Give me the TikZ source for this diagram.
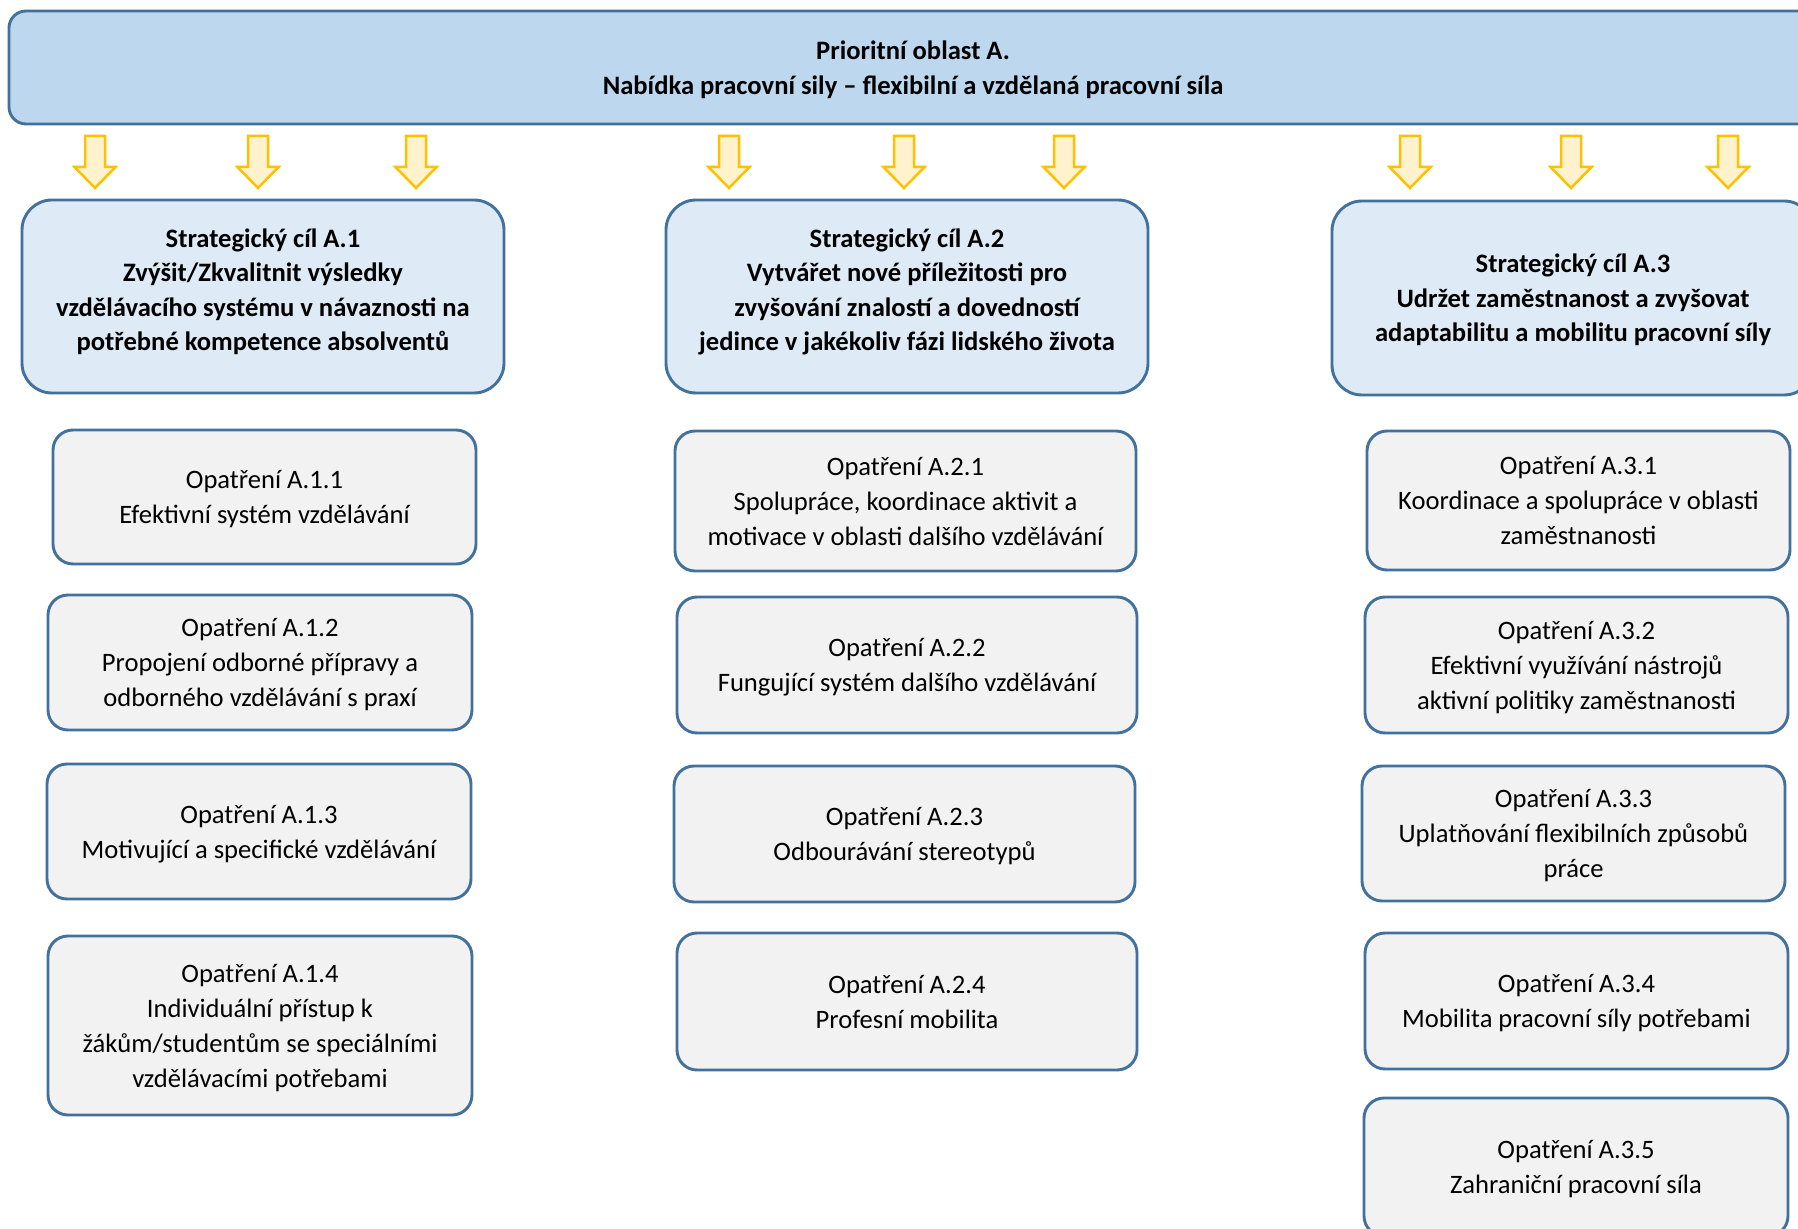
\documentclass[tikz,border=0pt]{standalone}
\usepackage{fontspec}
\setmainfont{Carlito}
\definecolor{edge}{HTML}{41719C}
\definecolor{topfill}{HTML}{BDD7EE}
\definecolor{goalfill}{HTML}{DEEBF7}
\definecolor{measfill}{HTML}{F2F2F2}
\definecolor{arrowedge}{HTML}{FFC000}
\definecolor{arrowfill}{HTML}{FFF2CC}
\begin{document}
\begin{tikzpicture}[x=0.5pt,y=-0.5pt,
  base/.style={draw=edge, line width=1.45pt, inner sep=0pt, align=center, text depth=0pt,
    font=\fontsize{13.3}{17.5}\selectfont},
  pbox/.style n args={4}{minimum width={(#3-#1)*0.5pt}, minimum height={(#4-#2)*0.5pt},
    at={({(#1+#3)/2},{(#2+#4)/2})}},
  topbox/.style={base, fill=topfill, rounded corners=8.5pt,
    font=\fontsize{13.3}{17.5}\selectfont\bfseries},
  goalbox/.style={base, fill=goalfill, rounded corners=15pt,
    font=\fontsize{13.3}{17.2}\selectfont\bfseries},
  measbox/.style={base, fill=measfill, rounded corners=10pt},
  darr/.pic={\draw[draw=arrowedge, fill=arrowfill, line width=1.25pt, line join=miter]
     (-10,0) -- (10,0) -- (10,31) -- (20.5,31) -- (0,52) -- (-20.5,31) -- (-10,31) -- cycle;}]
\useasboundingbox (0,0) rectangle (1798,1229);
\clip (0,0) rectangle (1798,1229);
\fill[white] (0,0) rectangle (1798,1229);

% top box
\node[topbox, pbox={9}{11}{1817}{124}] (top) {Prioritní oblast A.\\Nabídka pracovní sily – flexibilní a vzdělaná pracovní síla};

% arrows
\foreach \x in {95,258,416,729,904,1064,1410,1571,1728}
  \pic at (\x,136) {darr};

% strategic goals
\node[goalbox, pbox={22}{200}{504}{393}, text depth=7pt] (g1) {Strategický cíl A.1\\Zvýšit/Zkvalitnit výsledky\\vzdělávacího systému v návaznosti na\\potřebné kompetence absolventů};
\node[goalbox, pbox={666}{200}{1148}{393}, text depth=7pt] (g2) {Strategický cíl A.2\\Vytvářet nové příležitosti pro\\zvyšování znalostí a dovedností\\jedince v jakékoliv fázi lidského života};
\node[goalbox, pbox={1332}{201}{1814}{395}] (g3) {Strategický cíl A.3\\Udržet zaměstnanost a zvyšovat\\adaptabilitu a mobilitu pracovní síly};

% measures column 1
\node[measbox, pbox={53}{430}{476}{564}] (m11) {Opatření A.1.1\\Efektivní systém vzdělávání};
\node[measbox, pbox={48}{595}{472}{730}] (m12) {Opatření A.1.2\hspace{16pt}\\Propojení odborné přípravy a\\odborného vzdělávání s praxí};
\node[measbox, pbox={47}{764}{471}{899}] (m13) {Opatření A.1.3\hspace{16pt}\\Motivující a specifické vzdělávání};
\node[measbox, pbox={48}{936}{472}{1115}] (m14) {Opatření A.1.4\hspace{16pt}\\Individuální přístup k\\žákům/studentům se speciálními\\vzdělávacími potřebami};

% measures column 2
\node[measbox, pbox={675}{431}{1136}{571}] (m21) {Opatření A.2.1\hspace{16pt}\\Spolupráce, koordinace aktivit a\\motivace v oblasti dalšího vzdělávání};
\node[measbox, pbox={677}{597}{1137}{733}] (m22) {Opatření A.2.2\hspace{16pt}\\Fungující systém dalšího vzdělávání};
\node[measbox, pbox={674}{766}{1135}{902}] (m23) {Opatření A.2.3\hspace{16pt}\\Odbourávání stereotypů};
\node[measbox, pbox={677}{933}{1137}{1070}] (m24) {Opatření A.2.4\hspace{16pt}\\Profesní mobilita};

% measures column 3
\node[measbox, pbox={1367}{431}{1790}{570}] (m31) {Opatření A.3.1\hspace{16pt}\\Koordinace a spolupráce v oblasti\\zaměstnanosti};
\node[measbox, pbox={1365}{597}{1788}{733}] (m32) {Opatření A.3.2\hspace{16pt}\\Efektivní využívání nástrojů\\aktivní politiky zaměstnanosti};
\node[measbox, pbox={1362}{766}{1785}{901}] (m33) {Opatření A.3.3\hspace{16pt}\\Uplatňování flexibilních způsobů\\práce};
\node[measbox, pbox={1365}{933}{1788}{1069}] (m34) {Opatření A.3.4\hspace{16pt}\\Mobilita pracovní síly potřebami};
\node[measbox, pbox={1364}{1098}{1788}{1236}] (m35) {Opatření A.3.5\hspace{22pt}\\Zahraniční pracovní síla};
\end{tikzpicture}
\end{document}
